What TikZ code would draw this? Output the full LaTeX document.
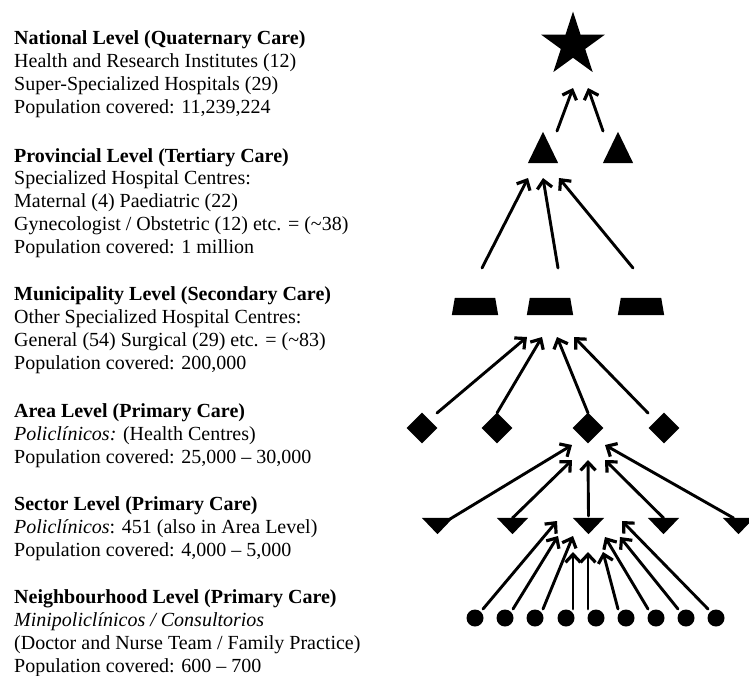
\documentclass[tikz,border=0pt]{standalone}
\usepackage{fontspec}
\setmainfont{Liberation Serif}
\usepackage{tikz}
\usetikzlibrary{shapes.geometric, arrows.meta, calc}
\definecolor{LevelBlack}{HTML}{000000}
\tikzset{
    % Level shapes - all filled black
    national/.style={
        star,
        star points=5,
        star point ratio=2.618,
        fill=LevelBlack,
        minimum size=67,
        inner sep=0
    },
    provincial/.style={
        rectangle,
        minimum width=30,
        minimum height=31,
        inner sep=0
    },
    municipal/.style={
        rectangle,
        minimum width=46,
        minimum height=17,
        inner sep=0
    },
    area/.style={
        diamond,
        aspect=1,
        fill=LevelBlack,
        minimum width=31,
        minimum height=31,
        inner sep=0
    },
    sector/.style={
        rectangle,
        minimum width=31,
        minimum height=16,
        inner sep=0
    },
    neighbourhood/.style={
        circle,
        fill=LevelBlack,
        minimum size=17,
        inner sep=0
    },
    % Text block style (placed at the baseline of its last line)
    leveltext/.style={
        anchor=base west,
        align=left,
        inner sep=0,
        font=\fontsize{20}{22.7}\selectfont
    },
    % Arrow style - open barbs
    arrow/.style={
        -{Straight Barb[length=8pt,width=15pt,line width=0pt 1.1]},
        line width=2.9pt,
        line cap=round,
        draw=LevelBlack
    }
}

\begin{document}
\begin{tikzpicture}[x=1pt, y=-1pt]
    \useasboundingbox (0,0) rectangle (749,675);

    % Text column
    \node[leveltext] (tnat) at (14,113) {\textbf{National Level (Quaternary Care)}\\Health and Research Institutes (12)\\Super-Specialized Hospitals (29)\\Population covered: 11,239,224};
    \node[leveltext] (tprov) at (14,253) {\textbf{Provincial Level (Tertiary Care)}\\Specialized Hospital Centres:\\Maternal (4) Paediatric (22)\\Gynecologist / Obstetric (12) etc. = (\textasciitilde38)\\Population covered: 1 million};
    \node[leveltext] (tmun) at (14,369) {\textbf{Municipality Level (Secondary Care)}\\Other Specialized Hospital Centres:\\General (54) Surgical (29) etc. = (\textasciitilde83)\\Population covered: 200,000};
    \node[leveltext] (tarea) at (14,463) {\textbf{Area Level (Primary Care)}\\\textit{Policlínicos:} (Health Centres)\\Population covered: 25,000 -- 30,000};
    \node[leveltext] (tsec) at (14,556) {\textbf{Sector Level (Primary Care)}\\\textit{Policlínicos}: 451 (also in Area Level)\\Population covered: 4,000 -- 5,000};
    \node[leveltext] (tnbh) at (14,672) {\textbf{Neighbourhood Level (Primary Care)}\\\textit{Minipoliclínicos / Consultorios}\\(Doctor and Nurse Team / Family Practice)\\Population covered: 600 -- 700};

    % Pyramid of levels
    \node[national] (star) at (573,45) {};

    \node[provincial] (t1) at (543,147.5) {};
    \node[provincial] (t2) at (618,147.5) {};
    \fill (t1.south west) -- (t1.south east) -- (t1.north) -- cycle;
    \fill (t2.south west) -- (t2.south east) -- (t2.north) -- cycle;

    \node[municipal] (m1) at (475,306.5) {};
    \node[municipal] (m2) at (550,306.5) {};
    \node[municipal] (m3) at (641,306.5) {};
    \fill (m1.south west) -- (m1.south east) -- ($(m1.north east)+(-3,0)$) -- ($(m1.north west)+(3,0)$) -- cycle;
    \fill (m2.south west) -- (m2.south east) -- ($(m2.north east)+(-3,0)$) -- ($(m2.north west)+(3,0)$) -- cycle;
    \fill (m3.south west) -- (m3.south east) -- ($(m3.north east)+(-3,0)$) -- ($(m3.north west)+(3,0)$) -- cycle;

    \node[area] (d1) at (422,428) {};
    \node[area] (d2) at (497,428) {};
    \node[area] (d3) at (588,428) {};
    \node[area] (d4) at (664,428) {};

    \node[sector] (v1) at (437.5,526) {};
    \node[sector] (v2) at (512.5,526) {};
    \node[sector] (v3) at (588.5,526) {};
    \node[sector] (v4) at (663.5,526) {};
    \node[sector] (v5) at (738.5,526) {};
    \fill (v1.north west) -- (v1.north east) -- (v1.south) -- cycle;
    \fill (v2.north west) -- (v2.north east) -- (v2.south) -- cycle;
    \fill (v3.north west) -- (v3.north east) -- (v3.south) -- cycle;
    \fill (v4.north west) -- (v4.north east) -- (v4.south) -- cycle;
    \fill (v5.north west) -- (v5.north east) -- (v5.south) -- cycle;

    \node[neighbourhood] (c1) at (475,618) {};
    \node[neighbourhood] (c2) at (505,618) {};
    \node[neighbourhood] (c3) at (535,618) {};
    \node[neighbourhood] (c4) at (566,618) {};
    \node[neighbourhood] (c5) at (596,618) {};
    \node[neighbourhood] (c6) at (626,618) {};
    \node[neighbourhood] (c7) at (656,618) {};
    \node[neighbourhood] (c8) at (686,618) {};
    \node[neighbourhood] (c9) at (716,618) {};

    % Referrals upward
    \draw[arrow] ($(t1)+(14,-16.5)$) -- ($(star)+(0,43)$);
    \draw[arrow] ($(t2)+(-15,-16.5)$) -- ($(star)+(15,43)$);

    \draw[arrow] ($(m1)+(7,-38.5)$) -- ($(t1)+(-15,30.5)$);
    \draw[arrow] ($(m2)+(8,-38.5)$) -- ($(t1)+(0,30.5)$);
    \draw[arrow] ($(m3)+(-8,-38.5)$) -- ($(t1)+(16,30.5)$);

    \draw[arrow] ($(d1)+(15,-15)$) -- ($(m2)+(-23,30.5)$);
    \draw[arrow] ($(d2)+(0,-15)$) -- ($(m2)+(-8,30.5)$);
    \draw[arrow] ($(d3)+(0,-15)$) -- ($(m2)+(7,30.5)$);
    \draw[arrow] ($(d4)+(-16,-15)$) -- ($(m2)+(24,30.5)$);

    \draw[arrow] ($(v1)+(12.5,-7)$) -- ($(d3)+(-16,17)$);
    \draw[arrow] ($(v2)+(0,-8)$) -- ($(d3)+(-16,32)$);
    \draw[arrow] ($(v3)+(0,-10)$) -- ($(d3)+(0,32)$);
    \draw[arrow] ($(v4)+(0,-8)$) -- ($(d3)+(17,32)$);
    \draw[arrow] ($(v5)+(-5,-8)$) -- ($(d3)+(17,17)$);

    \draw[arrow] ($(c1)+(8,-9)$) -- ($(v3)+(-31.5,-5)$);
    \draw[arrow] ($(c2)+(8,-9)$) -- ($(v3)+(-30.5,10)$);
    \draw[arrow] ($(c3)+(8,-9)$) -- ($(v3)+(-15.5,10)$);
    \draw[arrow] ($(c4)+(7,-9)$) -- ($(v3)+(-15.5,26)$);
    \draw[arrow] ($(c5)+(-8,-9)$) -- ($(v3)+(-0.5,26)$);
    \draw[arrow] ($(c6)+(-8,-9)$) -- ($(v3)+(14.5,26)$);
    \draw[arrow] ($(c7)+(-8,-9)$) -- ($(v3)+(16.5,11)$);
    \draw[arrow] ($(c8)+(-8,-9)$) -- ($(v3)+(31.5,11)$);
    \draw[arrow] ($(c9)+(-8,-9)$) -- ($(v3)+(33.5,-5)$);
\end{tikzpicture}
\end{document}
